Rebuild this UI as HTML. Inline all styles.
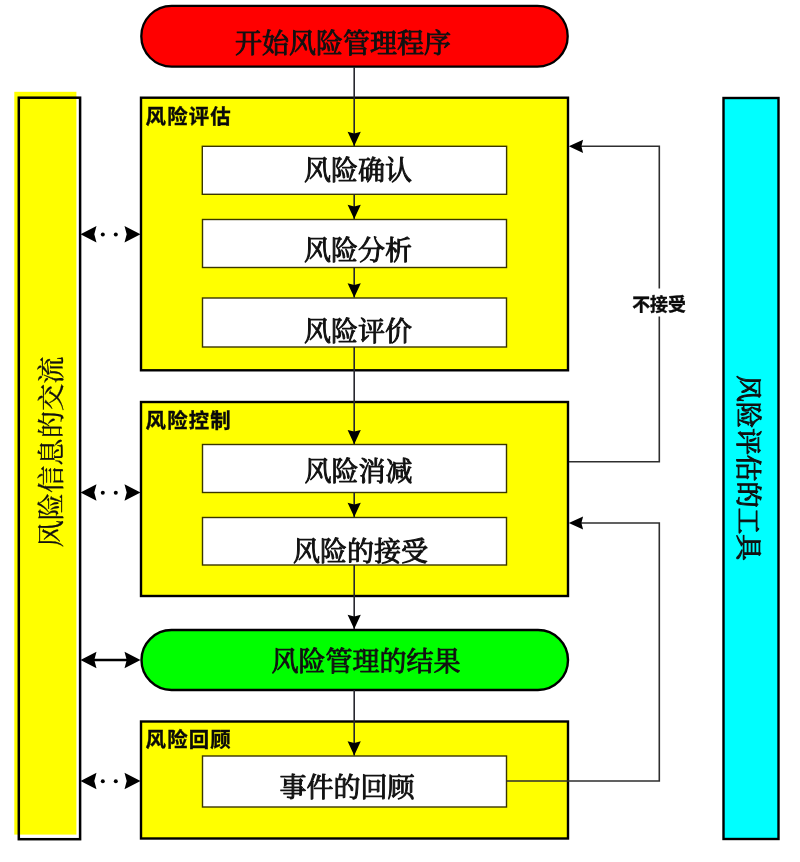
<!DOCTYPE html>
<html lang="zh-CN">
<head>
<meta charset="utf-8">
<title>风险管理程序</title>
<style>
html,body{margin:0;padding:0;background:#fff;}
body{width:800px;height:862px;overflow:hidden;position:relative;}
svg{position:absolute;left:0;top:0;display:block;filter:blur(0.4px);}
.song{font-family:"Liberation Serif","Noto Serif CJK SC",serif;}
.hei{font-family:"Liberation Sans","Noto Sans CJK SC",sans-serif;}
.box{fill:#ffff00;stroke:#000;stroke-width:2.4;}
.wb{fill:#fff;stroke:#3a3600;stroke-width:1.4;}
.ln{stroke:#26262e;stroke-width:1.6;fill:none;}
.fb{stroke:#2e2e2e;stroke-width:1.6;fill:none;}
.t27{font-size:27px;font-weight:400;fill:#111;stroke:#111;stroke-width:1px;stroke-linejoin:round;}
.lab{font-size:20.4px;font-weight:700;fill:#0a0a0a;stroke:#0a0a0a;stroke-width:0.35px;letter-spacing:1.15px;}
</style>
</head>
<body>
<svg width="800" height="862" viewBox="0 0 800 862">
<defs>
<path id="ah" d="M0,0 L-6.6,-14.3 L0,-12.6 L6.6,-14.3 Z" fill="#000"/>
</defs>
<rect x="0" y="0" width="800" height="862" fill="#fff"/>

<!-- left bar -->
<rect x="14.3" y="91.8" width="62.1" height="742.8" fill="#ffff00"/>
<rect x="18.8" y="97.7" width="61.3" height="741.5" fill="none" stroke="#000" stroke-width="2.5"/>
<text class="song" transform="translate(52.4,452) rotate(-90)" text-anchor="middle" dominant-baseline="central" font-size="27.3" font-weight="400" fill="#111" stroke="#111" stroke-width="0.3">风险信息的交流</text>

<!-- right bar -->
<rect x="723.5" y="98" width="55" height="741" fill="#00ffff" stroke="#000" stroke-width="2.4"/>
<text class="song" transform="translate(748,468) rotate(90)" text-anchor="middle" dominant-baseline="central" font-size="26.5" font-weight="400" fill="#111" stroke="#111" stroke-width="1" stroke-linejoin="round">风险评估的工具</text>

<!-- start pill -->
<rect x="141.3" y="5.9" width="426.4" height="60.7" rx="30.35" ry="30.35" fill="#ff0000" stroke="#000" stroke-width="2.3"/>
<text class="song t27" x="343" y="52.5" text-anchor="middle">开始风险管理程序</text>

<!-- box 1 -->
<rect class="box" x="141" y="97.7" width="427" height="272.6"/>
<text class="hei lab" x="145.6" y="124">风险评估</text>
<rect class="wb" x="202.3" y="146.3" width="304.3" height="48"/>
<rect class="wb" x="202.5" y="219.5" width="304" height="48"/>
<rect class="wb" x="202.5" y="298" width="304" height="49"/>

<!-- box 2 -->
<rect class="box" x="141" y="402" width="427" height="194"/>
<text class="hei lab" x="145.6" y="428.3">风险控制</text>
<rect class="wb" x="202.5" y="444.5" width="304" height="48"/>
<rect class="wb" x="202.5" y="517.5" width="304" height="47.5"/>

<!-- result pill -->
<rect x="141.5" y="630" width="426.5" height="60" rx="30" ry="30" fill="#00ff00" stroke="#000" stroke-width="2.4"/>

<!-- box 3 -->
<rect class="box" x="141" y="721.5" width="427" height="117"/>
<text class="hei lab" x="145.6" y="747.2">风险回顾</text>
<rect class="wb" x="202.5" y="756" width="304" height="51"/>

<!-- texts -->
<g class="song t27" text-anchor="middle">
<text x="358" y="180" >风险确认</text>
<text x="358" y="260.2">风险分析</text>
<text x="358" y="341">风险评价</text>
<text x="358.5" y="480.5">风险消减</text>
<text x="360.5" y="560.8">风险的接受</text>
<text x="366" y="670.7">风险管理的结果</text>
<text x="347" y="797">事件的回顾</text>
</g>

<!-- flow lines -->
<path class="ln" d="M354.2,67 V146 M354.2,194.5 V219 M354.2,267.5 V297.5 M354.2,347 V444 M354.2,492.5 V517 M354.2,565 V629 M354.2,690 V755.5"/>
<use href="#ah" x="354.2" y="146"/>
<use href="#ah" x="354.2" y="219"/>
<use href="#ah" x="354.2" y="297.5"/>
<use href="#ah" x="354.2" y="444.2"/>
<use href="#ah" x="354.2" y="517"/>
<use href="#ah" x="354.2" y="629"/>
<use href="#ah" x="354.2" y="755.5"/>

<!-- feedback lines -->
<path class="fb" d="M569,461.8 H659.3 V316.5 M659.3,288.5 V146.3 H580"/>
<use href="#ah" transform="translate(568.8,146.3) rotate(90)"/>
<path class="fb" d="M506.5,781 H659.3 V523 H580"/>
<use href="#ah" transform="translate(568.8,523) rotate(90)"/>
<text class="hei" x="659" y="311" text-anchor="middle" font-size="17.9" font-weight="700" fill="#0a0a0a" stroke="#0a0a0a" stroke-width="0.4">不接受</text>

<!-- left double arrows -->
<g id="dots1">
<path d="M80.5,234.3 L96.5,226 L94.3,234.3 L96.5,242.6 Z" fill="#000"/>
<path d="M140.5,234.3 L124.5,226 L126.7,234.3 L124.5,242.6 Z" fill="#000"/>
<circle cx="102.8" cy="234.5" r="2" fill="#000"/>
<circle cx="115.8" cy="234.5" r="2" fill="#000"/>
</g>
<use href="#dots1" y="258.2"/>
<use href="#dots1" y="546.7"/>
<path d="M80.5,660 L96.5,651.7 L94.3,660 L96.5,668.3 Z" fill="#000"/>
<path d="M140.5,660 L124.5,651.7 L126.7,660 L124.5,668.3 Z" fill="#000"/>
<path d="M94,660 H127" stroke="#000" stroke-width="2.4"/>
</svg>
</body>
</html>
